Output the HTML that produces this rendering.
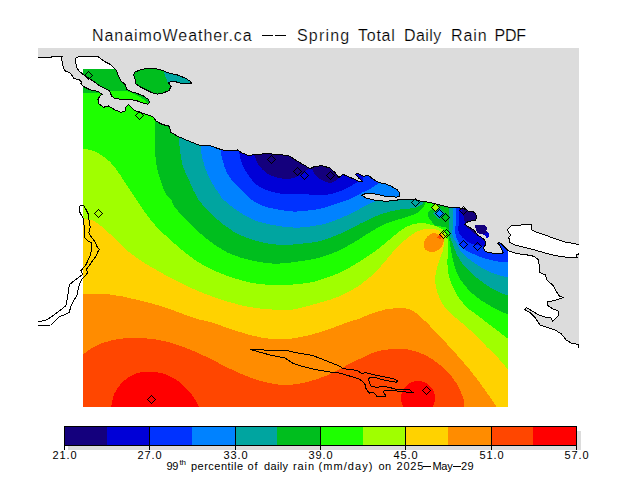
<!DOCTYPE html>
<html><head><meta charset="utf-8"><title>NanaimoWeather.ca -- Spring Total Daily Rain PDF</title>
<style>
html,body{margin:0;padding:0;background:#fff;}
body{width:640px;height:480px;position:relative;overflow:hidden;font-family:"Liberation Sans",sans-serif;color:#000;}
.t{position:absolute;white-space:nowrap;line-height:1;}
.title{font-size:16px;top:28px;-webkit-text-stroke:0.2px #fff;}
.lb{font-size:11px;top:450px;width:40px;text-align:center;letter-spacing:0.9px;}
.cap{font-size:11px;top:461px;}
</style></head><body>
<svg width="640" height="480" viewBox="0 0 640 480" shape-rendering="crispEdges" style="position:absolute;left:0;top:0">
<defs><clipPath id="dc"><rect x="83" y="69" width="425" height="338"/></clipPath></defs>
<g clip-path="url(#dc)">
<rect x="83" y="69" width="425" height="338" fill="#ffd200"/>
<path d="M83.00,218.75 C85.00,219.21 90.50,218.96 95.00,221.50 C99.50,224.04 105.00,229.46 110.00,234.00 C115.00,238.54 120.00,244.42 125.00,248.75 C130.00,253.08 135.83,257.08 140.00,260.00 C144.17,262.92 145.00,263.33 150.00,266.25 C155.00,269.17 163.33,273.96 170.00,277.50 C176.67,281.04 182.50,284.17 190.00,287.50 C197.50,290.83 206.67,294.58 215.00,297.50 C223.33,300.42 232.08,303.12 240.00,305.00 C247.92,306.88 254.58,307.92 262.50,308.75 C270.42,309.58 281.25,310.12 287.50,310.00 C293.75,309.88 294.58,309.25 300.00,308.00 C305.42,306.75 313.33,304.46 320.00,302.50 C326.67,300.54 333.33,299.17 340.00,296.25 C346.67,293.33 353.75,289.38 360.00,285.00 C366.25,280.62 372.08,275.42 377.50,270.00 C382.92,264.58 387.92,257.50 392.50,252.50 C397.08,247.50 400.83,243.54 405.00,240.00 C409.17,236.46 413.33,233.12 417.50,231.25 C421.67,229.38 426.42,228.88 430.00,228.75 C433.58,228.62 436.67,229.29 439.00,230.50 C441.33,231.71 443.20,233.92 444.00,236.00 C444.80,238.08 443.97,240.67 443.80,243.00 C443.63,245.33 443.87,246.75 443.00,250.00 C442.13,253.25 439.85,258.33 438.60,262.50 C437.35,266.67 435.93,270.83 435.50,275.00 C435.07,279.17 435.17,283.33 436.00,287.50 C436.83,291.67 438.67,296.25 440.50,300.00 C442.33,303.75 444.42,307.00 447.00,310.00 C449.58,313.00 452.17,314.67 456.00,318.00 C459.83,321.33 464.75,325.08 470.00,330.00 C475.25,334.92 482.50,342.50 487.50,347.50 C492.50,352.50 496.58,356.25 500.00,360.00 C503.42,363.75 506.67,368.33 508.00,370.00 L520.00,370.00 L520.00,60.00 L70.00,60.00 L70.00,218.75 Z" fill="#a0ff00"/>
<path d="M83.00,149.25 C84.58,149.46 88.83,149.12 92.50,150.50 C96.17,151.88 101.25,154.67 105.00,157.50 C108.75,160.33 111.67,163.33 115.00,167.50 C118.33,171.67 121.67,177.50 125.00,182.50 C128.33,187.50 131.67,192.50 135.00,197.50 C138.33,202.50 141.67,207.92 145.00,212.50 C148.33,217.08 151.67,221.25 155.00,225.00 C158.33,228.75 160.00,230.42 165.00,235.00 C170.00,239.58 178.33,247.29 185.00,252.50 C191.67,257.71 198.33,262.50 205.00,266.25 C211.67,270.00 217.50,272.29 225.00,275.00 C232.50,277.71 242.08,280.83 250.00,282.50 C257.92,284.17 265.42,284.67 272.50,285.00 C279.58,285.33 286.25,284.92 292.50,284.50 C298.75,284.08 305.42,283.25 310.00,282.50 C314.58,281.75 315.00,281.67 320.00,280.00 C325.00,278.33 333.33,275.62 340.00,272.50 C346.67,269.38 353.33,265.42 360.00,261.25 C366.67,257.08 374.17,251.88 380.00,247.50 C385.83,243.12 390.42,238.54 395.00,235.00 C399.58,231.46 403.33,228.25 407.50,226.25 C411.67,224.25 415.83,223.21 420.00,223.00 C424.17,222.79 428.83,224.00 432.50,225.00 C436.17,226.00 439.58,227.17 442.00,229.00 C444.42,230.83 446.00,232.50 447.00,236.00 C448.00,239.50 447.93,245.58 448.00,250.00 C448.07,254.42 447.30,258.33 447.40,262.50 C447.50,266.67 447.67,270.83 448.60,275.00 C449.53,279.17 451.02,283.33 453.00,287.50 C454.98,291.67 457.67,296.25 460.50,300.00 C463.33,303.75 467.58,307.75 470.00,310.00 C472.42,312.25 471.67,311.00 475.00,313.50 C478.33,316.00 484.50,320.79 490.00,325.00 C495.50,329.21 505.00,336.46 508.00,338.75 L520.00,338.00 L520.00,60.00 L70.00,60.00 L70.00,149.00 Z" fill="#1eff00"/>
<path d="M83.00,92.50 C85.83,92.58 95.43,93.25 100.00,93.00 C104.57,92.75 105.90,91.29 110.40,91.00 C114.90,90.71 122.07,90.25 127.00,91.25 C131.93,92.25 136.33,94.88 140.00,97.00 C143.67,99.12 146.83,101.50 149.00,104.00 C151.17,106.50 152.00,109.00 153.00,112.00 C154.00,115.00 154.67,115.67 155.00,122.00 C155.33,128.33 154.58,142.00 155.00,150.00 C155.42,158.00 155.83,162.92 157.50,170.00 C159.17,177.08 162.71,187.50 165.00,192.50 C167.29,197.50 169.58,197.50 171.25,200.00 C172.92,202.50 172.71,204.50 175.00,207.50 C177.29,210.50 180.00,213.00 185.00,218.00 C190.00,223.00 197.92,231.75 205.00,237.50 C212.08,243.25 220.00,248.75 227.50,252.50 C235.00,256.25 242.08,258.12 250.00,260.00 C257.92,261.88 266.67,263.54 275.00,263.75 C283.33,263.96 292.50,262.29 300.00,261.25 C307.50,260.21 313.33,259.38 320.00,257.50 C326.67,255.62 333.33,253.12 340.00,250.00 C346.67,246.88 353.33,242.71 360.00,238.75 C366.67,234.79 373.33,229.54 380.00,226.25 C386.67,222.96 395.00,220.71 400.00,219.00 C405.00,217.29 407.17,217.00 410.00,216.00 C412.83,215.00 415.17,214.00 417.00,213.00 C418.83,212.00 419.83,211.17 421.00,210.00 C422.17,208.83 423.17,207.33 424.00,206.00 C424.83,204.67 425.67,202.67 426.00,202.00 L426.00,60.00 L70.00,60.00 L70.00,92.50 Z" fill="#00be1e"/>
<path d="M440.00,200.00 C440.00,200.83 441.17,203.50 440.00,205.00 C438.83,206.50 434.92,207.83 433.00,209.00 C431.08,210.17 429.25,210.67 428.50,212.00 C427.75,213.33 427.92,215.33 428.50,217.00 C429.08,218.67 430.75,220.50 432.00,222.00 C433.25,223.50 434.50,225.25 436.00,226.00 C437.50,226.75 439.33,226.25 441.00,226.50 C442.67,226.75 444.75,226.58 446.00,227.50 C447.25,228.42 448.00,230.33 448.50,232.00 C449.00,233.67 448.58,234.50 449.00,237.50 C449.42,240.50 450.33,246.25 451.00,250.00 C451.67,253.75 452.04,256.25 453.00,260.00 C453.96,263.75 454.88,268.33 456.75,272.50 C458.62,276.67 461.12,281.04 464.25,285.00 C467.38,288.96 471.75,293.12 475.50,296.25 C479.25,299.38 483.00,301.46 486.75,303.75 C490.50,306.04 494.46,308.21 498.00,310.00 C501.54,311.79 506.33,313.75 508.00,314.50 L520.00,314.00 L520.00,60.00 L440.00,60.00 Z" fill="#00be1e"/>
<path d="M163.50,60.00 C163.50,61.83 162.92,67.67 163.50,71.00 C164.08,74.33 166.20,77.83 167.00,80.00 C167.80,82.17 167.72,82.67 168.30,84.00 C168.88,85.33 169.38,83.67 170.50,88.00 C171.62,92.33 173.75,103.00 175.00,110.00 C176.25,117.00 177.38,125.42 178.00,130.00 C178.62,134.58 178.42,134.17 178.75,137.50 C179.08,140.83 179.38,145.42 180.00,150.00 C180.62,154.58 180.83,159.58 182.50,165.00 C184.17,170.42 187.29,176.67 190.00,182.50 C192.71,188.33 194.58,194.17 198.75,200.00 C202.92,205.83 208.96,212.08 215.00,217.50 C221.04,222.92 227.92,228.54 235.00,232.50 C242.08,236.46 250.00,239.17 257.50,241.25 C265.00,243.33 272.92,244.58 280.00,245.00 C287.08,245.42 293.33,244.38 300.00,243.75 C306.67,243.12 313.33,242.92 320.00,241.25 C326.67,239.58 333.33,236.67 340.00,233.75 C346.67,230.83 353.33,226.96 360.00,223.75 C366.67,220.54 373.33,216.88 380.00,214.50 C386.67,212.12 395.00,210.50 400.00,209.50 C405.00,208.50 407.08,208.92 410.00,208.50 C412.92,208.08 415.42,207.79 417.50,207.00 C419.58,206.21 421.42,204.75 422.50,203.75 C423.58,202.75 423.75,201.46 424.00,201.00 L424.00,60.00 Z" fill="#00a5a0"/>
<path d="M448.00,200.00 C448.12,201.17 448.58,203.67 448.75,207.00 C448.92,210.33 448.96,215.83 449.00,220.00 C449.04,224.17 448.83,229.29 449.00,232.00 C449.17,234.71 449.00,233.25 450.00,236.25 C451.00,239.25 453.46,246.25 455.00,250.00 C456.54,253.75 457.29,255.62 459.25,258.75 C461.21,261.88 463.62,265.42 466.75,268.75 C469.88,272.08 474.04,275.62 478.00,278.75 C481.96,281.88 486.33,285.00 490.50,287.50 C494.67,290.00 500.08,292.40 503.00,293.75 C505.92,295.10 507.17,295.29 508.00,295.60 L520.00,295.00 L520.00,60.00 L448.00,60.00 Z" fill="#00a5a0"/>
<path d="M439.00,207.00 L445.00,213.50 L439.00,220.00 L433.00,213.50 Z" fill="#00a5a0"/>
<path d="M439.00,209.50 L443.00,213.50 L439.00,217.50 L435.00,213.50 Z" fill="#0082ff"/>
<path d="M435.60,203.50 L439.00,207.10 L435.60,210.70 L432.00,207.10 Z" fill="#a0ff00"/>
<path d="M200.00,138.00 C200.10,139.48 200.18,143.44 200.60,146.90 C201.02,150.36 201.45,154.48 202.50,158.75 C203.55,163.02 205.23,168.33 206.90,172.50 C208.57,176.67 210.32,180.00 212.50,183.75 C214.68,187.50 218.12,192.29 220.00,195.00 C221.88,197.71 220.42,197.08 223.75,200.00 C227.08,202.92 234.38,208.96 240.00,212.50 C245.62,216.04 250.83,218.96 257.50,221.25 C264.17,223.54 272.92,225.21 280.00,226.25 C287.08,227.29 292.50,227.92 300.00,227.50 C307.50,227.08 317.50,225.62 325.00,223.75 C332.50,221.88 339.17,218.75 345.00,216.25 C350.83,213.75 355.42,211.04 360.00,208.75 C364.58,206.46 369.67,203.88 372.50,202.50 C375.33,201.12 376.25,200.83 377.00,200.50 L380.00,198.00 L398.00,198.00 L402.00,190.00 L402.00,60.00 L200.00,60.00 Z" fill="#0082ff"/>
<path d="M452.50,200.00 C452.58,201.17 452.92,202.83 453.00,207.00 C453.08,211.17 453.08,220.33 453.00,225.00 C452.92,229.67 451.75,231.67 452.50,235.00 C453.25,238.33 456.25,242.50 457.50,245.00 C458.75,247.50 458.67,248.12 460.00,250.00 C461.33,251.88 462.92,253.96 465.50,256.25 C468.08,258.54 471.75,261.25 475.50,263.75 C479.25,266.25 483.83,269.27 488.00,271.25 C492.17,273.23 497.17,274.56 500.50,275.60 C503.83,276.64 506.75,277.18 508.00,277.50 L520.00,278.00 L520.00,60.00 L452.50,60.00 Z" fill="#0082ff"/>
<path d="M220.50,142.00 C220.52,143.43 220.27,147.60 220.60,150.60 C220.93,153.60 221.45,156.35 222.50,160.00 C223.55,163.65 225.03,168.75 226.90,172.50 C228.78,176.25 231.15,179.38 233.75,182.50 C236.35,185.62 239.79,188.54 242.50,191.25 C245.21,193.96 247.08,196.54 250.00,198.75 C252.92,200.96 256.67,202.96 260.00,204.50 C263.33,206.04 265.00,206.88 270.00,208.00 C275.00,209.12 285.00,210.71 290.00,211.25 C295.00,211.79 295.00,211.67 300.00,211.25 C305.00,210.83 313.33,210.21 320.00,208.75 C326.67,207.29 335.00,204.12 340.00,202.50 C345.00,200.88 346.25,200.67 350.00,199.00 C353.75,197.33 358.75,194.42 362.50,192.50 C366.25,190.58 369.79,189.08 372.50,187.50 C375.21,185.92 377.71,183.75 378.75,183.00 L380.00,175.00 L380.00,60.00 L220.00,60.00 Z" fill="#0032ff"/>
<path d="M456.00,200.00 C456.00,203.67 456.17,216.67 456.00,222.00 C455.83,227.33 454.54,228.58 455.00,232.00 C455.46,235.42 457.00,239.50 458.75,242.50 C460.50,245.50 462.92,248.02 465.50,250.00 C468.08,251.98 470.92,252.94 474.25,254.40 C477.58,255.86 481.54,257.57 485.50,258.75 C489.46,259.93 494.25,260.88 498.00,261.50 C501.75,262.12 506.33,262.33 508.00,262.50 L520.00,263.00 L520.00,60.00 L456.00,60.00 Z" fill="#0032ff"/>
<path d="M238.50,145.00 C238.65,146.46 238.73,150.42 239.40,153.75 C240.07,157.08 240.73,161.04 242.50,165.00 C244.27,168.96 247.29,173.96 250.00,177.50 C252.71,181.04 255.42,183.96 258.75,186.25 C262.08,188.54 265.62,189.91 270.00,191.25 C274.38,192.59 279.17,193.79 285.00,194.30 C290.83,194.81 298.33,194.18 305.00,194.30 C311.67,194.42 319.17,195.51 325.00,195.00 C330.83,194.49 335.42,192.92 340.00,191.25 C344.58,189.58 349.38,186.67 352.50,185.00 C355.62,183.33 357.71,181.88 358.75,181.25 L363.00,181.50 L363.00,60.00 L238.00,60.00 Z" fill="#0000d7"/>
<path d="M459.00,200.00 C459.00,203.67 459.17,217.00 459.00,222.00 C458.83,227.00 457.42,227.42 458.00,230.00 C458.58,232.58 460.29,235.21 462.50,237.50 C464.71,239.79 467.92,242.29 471.25,243.75 C474.58,245.21 480.04,245.21 482.50,246.25 C484.96,247.29 485.42,249.38 486.00,250.00 L490.00,244.00 L493.00,236.00 L495.00,60.00 L459.00,60.00 Z" fill="#0000d7"/>
<path d="M254.00,148.00 C254.08,149.25 253.71,152.67 254.50,155.50 C255.29,158.33 256.58,161.96 258.75,165.00 C260.92,168.04 263.96,171.54 267.50,173.75 C271.04,175.96 276.25,177.42 280.00,178.25 C283.75,179.08 287.08,179.08 290.00,178.75 C292.92,178.42 295.00,177.50 297.50,176.25 C300.00,175.00 302.92,172.50 305.00,171.25 C307.08,170.00 309.17,169.17 310.00,168.75 L312.00,160.00 L312.00,100.00 L254.00,100.00 Z" fill="#14007d"/>
<path d="M311.00,160.00 C311.17,161.33 311.50,165.83 312.00,168.00 C312.50,170.17 312.67,171.17 314.00,173.00 C315.33,174.83 318.00,177.50 320.00,179.00 C322.00,180.50 324.17,181.33 326.00,182.00 C327.83,182.67 329.33,183.25 331.00,183.00 C332.67,182.75 334.67,181.50 336.00,180.50 C337.33,179.50 338.50,177.58 339.00,177.00 L340.00,160.00 L340.00,100.00 Z" fill="#14007d"/>
<path d="M458.00,190.00 L461.00,208.00 L463.50,216.00 L465.50,226.00 L478.00,236.50 L484.00,233.80 L489.00,231.50 L495.00,225.00 L495.00,190.00 Z" fill="#14007d"/>
<path d="M83.00,294.50 C87.50,294.50 101.75,293.79 110.00,294.50 C118.25,295.21 125.83,297.33 132.50,298.75 C139.17,300.17 144.58,301.54 150.00,303.00 C155.42,304.46 159.58,305.71 165.00,307.50 C170.42,309.29 177.29,311.88 182.50,313.75 C187.71,315.62 191.67,317.38 196.25,318.75 C200.83,320.12 204.38,320.33 210.00,322.00 C215.62,323.67 223.33,326.58 230.00,328.75 C236.67,330.92 243.33,333.33 250.00,335.00 C256.67,336.67 263.33,338.12 270.00,338.75 C276.67,339.38 283.33,339.38 290.00,338.75 C296.67,338.12 303.33,336.67 310.00,335.00 C316.67,333.33 323.33,331.00 330.00,328.75 C336.67,326.50 345.00,323.21 350.00,321.50 C355.00,319.79 356.67,319.75 360.00,318.50 C363.33,317.25 366.67,315.25 370.00,314.00 C373.33,312.75 376.67,311.88 380.00,311.00 C383.33,310.12 385.42,309.12 390.00,308.75 C394.58,308.38 402.50,307.50 407.50,308.75 C412.50,310.00 415.42,312.50 420.00,316.25 C424.58,320.00 429.58,325.62 435.00,331.25 C440.42,336.88 446.67,343.54 452.50,350.00 C458.33,356.46 464.58,363.33 470.00,370.00 C475.42,376.67 480.62,383.92 485.00,390.00 C489.38,396.08 494.38,403.75 496.25,406.50 L496.00,420.00 L70.00,420.00 L70.00,294.50 Z" fill="#ff8c00"/>
<path d="M438.75,235.00 C437.58,234.50 436.46,233.10 435.00,233.00 C433.54,232.90 431.57,233.44 430.00,234.40 C428.43,235.36 426.68,236.98 425.60,238.75 C424.52,240.52 423.52,243.21 423.50,245.00 C423.48,246.79 424.42,248.33 425.50,249.50 C426.58,250.67 428.42,251.67 430.00,252.00 C431.58,252.33 433.33,252.08 435.00,251.50 C436.67,250.92 438.67,249.79 440.00,248.50 C441.33,247.21 442.38,245.38 443.00,243.75 C443.62,242.12 443.92,240.04 443.75,238.75 C443.58,237.46 442.83,236.62 442.00,236.00 C441.17,235.38 439.92,235.50 438.75,235.00 Z" fill="#ff8c00"/>
<path d="M437.00,237.50 L440.00,234.00 L442.50,235.50 L440.00,239.50 Z" fill="#ff4600"/>
<path d="M83.00,354.50 C85.00,353.12 90.50,348.54 95.00,346.25 C99.50,343.96 104.58,342.12 110.00,340.75 C115.42,339.38 121.67,338.42 127.50,338.00 C133.33,337.58 138.75,337.71 145.00,338.25 C151.25,338.79 158.33,339.71 165.00,341.25 C171.67,342.79 178.33,345.00 185.00,347.50 C191.67,350.00 197.50,352.71 205.00,356.25 C212.50,359.79 222.50,365.21 230.00,368.75 C237.50,372.29 243.33,375.08 250.00,377.50 C256.67,379.92 263.75,382.00 270.00,383.25 C276.25,384.50 281.67,385.12 287.50,385.00 C293.33,384.88 298.75,383.96 305.00,382.50 C311.25,381.04 318.33,378.96 325.00,376.25 C331.67,373.54 339.17,369.17 345.00,366.25 C350.83,363.33 355.00,361.12 360.00,358.75 C365.00,356.38 370.00,353.58 375.00,352.00 C380.00,350.42 384.58,349.71 390.00,349.25 C395.42,348.79 401.67,348.29 407.50,349.25 C413.33,350.21 419.58,352.38 425.00,355.00 C430.42,357.62 435.42,361.25 440.00,365.00 C444.58,368.75 449.17,373.33 452.50,377.50 C455.83,381.67 458.12,386.25 460.00,390.00 C461.88,393.75 463.00,397.25 463.75,400.00 C464.50,402.75 464.38,405.42 464.50,406.50 L464.50,420.00 L70.00,420.00 L70.00,354.50 Z" fill="#ff4600"/>
<path d="M111.25,407.00 C111.67,405.00 112.29,398.67 113.75,395.00 C115.21,391.33 117.29,388.12 120.00,385.00 C122.71,381.88 126.25,378.42 130.00,376.25 C133.75,374.08 138.33,372.71 142.50,372.00 C146.67,371.29 150.83,371.50 155.00,372.00 C159.17,372.50 163.33,373.25 167.50,375.00 C171.67,376.75 176.25,379.58 180.00,382.50 C183.75,385.42 187.29,389.38 190.00,392.50 C192.71,395.62 194.79,398.83 196.25,401.25 C197.71,403.67 198.33,406.04 198.75,407.00 L198.75,420.00 L111.00,420.00 Z" fill="#ff0000"/>
<circle cx="418" cy="398" r="17" fill="#ff0000"/>
</g>
<path d="M38.00,57.50 L51.00,57.50 L51.60,56.25 L62.25,56.25 L61.60,58.50 L62.25,62.25 L63.50,67.90 L65.40,71.00 L69.75,72.50 L72.25,76.00 L74.10,78.50 L79.10,79.75 L81.60,82.25 L81.00,83.50 L82.90,86.00 L87.25,88.50 L92.25,90.40 L97.90,91.25 L101.00,93.50 L102.25,94.10 L99.75,96.00 L97.90,99.75 L99.10,104.10 L103.50,107.25 L108.50,106.00 L114.75,109.75 L121.00,112.25 L125.40,111.00 L126.00,106.60 L128.50,104.75 L131.00,107.25 L134.75,110.40 L139.75,112.25 L146.00,114.50 L149.75,115.40 L153.75,117.50 L156.25,121.25 L162.50,124.50 L169.50,126.25 L170.50,132.00 L177.50,136.25 L187.50,140.50 L198.75,145.00 L210.00,145.50 L215.00,147.50 L222.50,150.00 L230.00,150.75 L237.50,150.00 L242.50,153.25 L248.75,155.50 L257.50,154.25 L267.50,153.75 L280.00,154.50 L290.00,156.25 L297.50,161.25 L305.00,165.50 L310.00,168.75 L315.00,166.25 L322.50,165.75 L330.00,168.10 L335.00,172.50 L338.75,177.50 L343.10,174.40 L348.75,176.90 L355.00,179.40 L360.00,181.90 L363.10,181.90 L358.75,178.10 L355.60,174.40 L357.50,173.10 L363.75,176.25 L368.10,175.00 L372.50,178.75 L378.75,182.50 L385.00,183.75 L391.25,186.25 L397.50,190.00 L400.00,193.75 L399.40,196.25 L396.25,197.10 L385.00,196.25 L380.00,195.00 L372.50,193.50 L365.00,193.75 L361.90,195.25 L366.25,198.10 L373.75,200.00 L385.00,201.25 L395.00,200.60 L400.00,199.40 L411.25,199.00 L420.00,201.00 L430.00,202.50 L440.00,205.00 L450.00,207.50 L460.00,208.00 L466.25,209.40 L468.75,211.90 L471.90,211.00 L475.00,213.00 L476.90,217.50 L475.60,220.00 L471.25,221.00 L467.50,221.90 L464.75,224.40 L468.75,226.90 L473.75,230.00 L476.25,233.10 L477.50,235.00 L482.50,238.10 L485.00,240.60 L485.25,245.00 L483.75,247.50 L484.40,250.60 L487.50,252.50 L497.50,253.75 L501.90,253.75 L503.10,252.50 L501.25,248.75 L499.40,245.00 L497.50,243.10 L499.40,242.25 L502.50,245.00 L506.25,248.75 L508.00,250.60 L517.50,253.75 L527.50,255.00 L533.75,256.25 L538.75,260.00 L539.50,272.50 L545.50,275.00 L547.00,280.00 L553.75,286.25 L556.25,291.25 L559.50,296.25 L563.00,297.50 L555.00,300.50 L547.50,302.00 L547.00,305.00 L552.50,308.75 L558.75,311.25 L558.00,316.25 L555.00,318.75 L552.50,321.25 L551.25,318.00 L545.00,317.00 L538.75,315.00 L532.50,311.25 L526.25,307.50 L524.50,309.50 L530.00,312.50 L535.00,317.50 L540.00,325.00 L547.50,327.50 L555.00,330.00 L561.25,333.75 L566.25,340.00 L571.25,343.00 L578.75,344.50 L578.75,348.00 L579.00,348.00 L579.00,48.00 L38.00,48.00 Z M76.00,57.90 L79.10,56.25 L97.25,56.25 L99.75,57.90 L104.75,61.60 L111.00,64.75 L116.00,69.75 L118.50,76.00 L121.00,81.00 L125.40,84.75 L126.60,89.10 L131.00,91.60 L137.25,93.50 L143.50,96.00 L147.90,99.10 L149.75,102.25 L147.90,104.10 L143.50,103.25 L138.50,101.25 L132.25,99.75 L126.00,99.10 L119.75,99.10 L114.75,98.50 L111.60,96.00 L110.40,92.90 L109.10,90.40 L104.75,88.50 L99.75,86.00 L96.00,83.25 L92.25,80.40 L87.25,77.25 L83.50,74.75 L79.75,71.60 L77.25,68.50 L76.25,64.75 L75.40,61.00 L75.40,58.50 Z M133.50,74.75 L134.75,72.25 L139.75,70.00 L147.25,68.25 L154.75,68.25 L162.25,70.40 L168.50,72.90 L177.50,75.00 L186.25,78.50 L190.00,81.25 L191.90,83.75 L186.25,83.50 L180.00,83.10 L175.00,81.50 L171.00,81.60 L168.50,82.90 L171.00,86.60 L169.10,90.40 L163.50,92.90 L157.25,94.10 L152.25,92.90 L146.00,89.75 L139.75,86.60 L136.00,84.10 L135.40,79.75 Z M475.00,225.00 L480.00,224.75 L485.60,225.60 L486.90,228.10 L486.25,231.25 L488.10,232.25 L489.00,234.40 L488.20,238.30 L486.20,238.30 L485.50,235.80 L483.50,234.60 L480.00,233.90 L477.50,232.50 L475.60,228.75 Z" fill="#dcdcdc" fill-rule="evenodd"/>
<path d="M579.00,244.50 L565.00,242.00 L555.00,238.75 L545.00,235.00 L536.25,232.00 L531.75,230.00 L531.25,224.25 L523.75,224.50 L517.50,225.50 L511.25,225.75 L507.50,229.50 L508.75,232.50 L511.25,235.00 L508.75,237.50 L510.00,242.50 L515.00,245.00 L525.00,247.50 L535.00,250.00 L545.00,253.00 L555.00,255.50 L565.00,257.00 L577.00,257.00 L576.25,255.00 L579.00,253.75 Z" fill="#fff"/>
<path d="M38.00,57.50 L51.00,57.50 L51.60,56.25 L62.25,56.25 L61.60,58.50 L62.25,62.25 L63.50,67.90 L65.40,71.00 L69.75,72.50 L72.25,76.00 L74.10,78.50 L79.10,79.75 L81.60,82.25 L81.00,83.50 L82.90,86.00 L87.25,88.50 L92.25,90.40 L97.90,91.25 L101.00,93.50 L102.25,94.10 L99.75,96.00 L97.90,99.75 L99.10,104.10 L103.50,107.25 L108.50,106.00 L114.75,109.75 L121.00,112.25 L125.40,111.00 L126.00,106.60 L128.50,104.75 L131.00,107.25 L134.75,110.40 L139.75,112.25 L146.00,114.50 L149.75,115.40 L153.75,117.50 L156.25,121.25 L162.50,124.50 L169.50,126.25 L170.50,132.00 L177.50,136.25 L187.50,140.50 L198.75,145.00 L210.00,145.50 L215.00,147.50 L222.50,150.00 L230.00,150.75 L237.50,150.00 L242.50,153.25 L248.75,155.50 L257.50,154.25 L267.50,153.75 L280.00,154.50 L290.00,156.25 L297.50,161.25 L305.00,165.50 L310.00,168.75 L315.00,166.25 L322.50,165.75 L330.00,168.10 L335.00,172.50 L338.75,177.50 L343.10,174.40 L348.75,176.90 L355.00,179.40 L360.00,181.90 L363.10,181.90 L358.75,178.10 L355.60,174.40 L357.50,173.10 L363.75,176.25 L368.10,175.00 L372.50,178.75 L378.75,182.50 L385.00,183.75 L391.25,186.25 L397.50,190.00 L400.00,193.75 L399.40,196.25 L396.25,197.10 L385.00,196.25 L380.00,195.00 L372.50,193.50 L365.00,193.75 L361.90,195.25 L366.25,198.10 L373.75,200.00 L385.00,201.25 L395.00,200.60 L400.00,199.40 L411.25,199.00 L420.00,201.00 L430.00,202.50 L440.00,205.00 L450.00,207.50 L460.00,208.00 L466.25,209.40 L468.75,211.90 L471.90,211.00 L475.00,213.00 L476.90,217.50 L475.60,220.00 L471.25,221.00 L467.50,221.90 L464.75,224.40 L468.75,226.90 L473.75,230.00 L476.25,233.10 L477.50,235.00 L482.50,238.10 L485.00,240.60 L485.25,245.00 L483.75,247.50 L484.40,250.60 L487.50,252.50 L497.50,253.75 L501.90,253.75 L503.10,252.50 L501.25,248.75 L499.40,245.00 L497.50,243.10 L499.40,242.25 L502.50,245.00 L506.25,248.75 L508.00,250.60 L517.50,253.75 L527.50,255.00 L533.75,256.25 L538.75,260.00 L539.50,272.50 L545.50,275.00 L547.00,280.00 L553.75,286.25 L556.25,291.25 L559.50,296.25 L563.00,297.50 L555.00,300.50 L547.50,302.00 L547.00,305.00 L552.50,308.75 L558.75,311.25 L558.00,316.25 L555.00,318.75 L552.50,321.25 L551.25,318.00 L545.00,317.00 L538.75,315.00 L532.50,311.25 L526.25,307.50 L524.50,309.50 L530.00,312.50 L535.00,317.50 L540.00,325.00 L547.50,327.50 L555.00,330.00 L561.25,333.75 L566.25,340.00 L571.25,343.00 L578.75,344.50 L578.75,348.00" fill="none" stroke="#000" stroke-width="1"/>
<path d="M76.00,57.90 L79.10,56.25 L97.25,56.25 L99.75,57.90 L104.75,61.60 L111.00,64.75 L116.00,69.75 L118.50,76.00 L121.00,81.00 L125.40,84.75 L126.60,89.10 L131.00,91.60 L137.25,93.50 L143.50,96.00 L147.90,99.10 L149.75,102.25 L147.90,104.10 L143.50,103.25 L138.50,101.25 L132.25,99.75 L126.00,99.10 L119.75,99.10 L114.75,98.50 L111.60,96.00 L110.40,92.90 L109.10,90.40 L104.75,88.50 L99.75,86.00 L96.00,83.25 L92.25,80.40 L87.25,77.25 L83.50,74.75 L79.75,71.60 L77.25,68.50 L76.25,64.75 L75.40,61.00 L75.40,58.50 Z" fill="none" stroke="#000" stroke-width="1"/>
<path d="M133.50,74.75 L134.75,72.25 L139.75,70.00 L147.25,68.25 L154.75,68.25 L162.25,70.40 L168.50,72.90 L177.50,75.00 L186.25,78.50 L190.00,81.25 L191.90,83.75 L186.25,83.50 L180.00,83.10 L175.00,81.50 L171.00,81.60 L168.50,82.90 L171.00,86.60 L169.10,90.40 L163.50,92.90 L157.25,94.10 L152.25,92.90 L146.00,89.75 L139.75,86.60 L136.00,84.10 L135.40,79.75 Z" fill="none" stroke="#000" stroke-width="1"/>
<path d="M579.00,244.50 L565.00,242.00 L555.00,238.75 L545.00,235.00 L536.25,232.00 L531.75,230.00 L531.25,224.25 L523.75,224.50 L517.50,225.50 L511.25,225.75 L507.50,229.50 L508.75,232.50 L511.25,235.00 L508.75,237.50 L510.00,242.50 L515.00,245.00 L525.00,247.50 L535.00,250.00 L545.00,253.00 L555.00,255.50 L565.00,257.00 L577.00,257.00 L576.25,255.00 L579.00,253.75" fill="none" stroke="#000" stroke-width="1"/>
<path d="M81.90,205.25 L79.40,206.25 L79.10,210.60 L81.25,215.00 L83.50,218.75 L84.00,225.00 L85.00,231.25 L84.60,237.50 L87.50,240.60 L91.60,243.10 L91.60,250.00 L89.70,256.70 L85.80,265.00 L80.80,270.80 L83.00,274.20 L75.00,280.00 L70.00,284.20 L68.70,287.50 L67.50,298.30 L65.80,305.80 L58.30,311.70 L51.70,316.70 L45.00,320.80 L38.00,321.30" fill="none" stroke="#000" stroke-width="1"/>
<path d="M81.90,205.25 L83.75,205.60 L85.60,208.75 L88.10,213.75 L89.00,220.00 L90.25,227.50 L88.75,232.50 L91.25,236.90 L95.00,241.90 L97.50,247.50 L99.40,249.10 L97.50,252.50 L96.70,255.00 L90.80,263.30 L85.80,270.00 L88.00,272.20 L85.80,275.00 L81.70,279.20 L78.30,287.50 L77.50,294.20 L74.20,300.00 L70.80,306.70 L69.20,312.50 L59.20,317.00 L50.80,325.00 L38.00,325.30" fill="none" stroke="#000" stroke-width="1"/>
<path d="M250.00,349.25 L263.75,350.00 L285.00,350.00 L295.00,352.50 L312.50,355.50 L327.50,361.25 L340.00,366.25 L342.50,368.75 L351.25,369.40 L357.50,370.60 L361.90,373.75 L365.00,372.50 L372.50,374.40 L381.25,376.25 L390.00,378.10 L395.60,379.40 L397.50,381.00 L396.25,382.25 L390.00,381.25 L382.50,379.75 L376.25,377.75 L370.00,377.50 L368.50,379.00 L369.40,383.10 L371.25,386.25 L376.25,387.25 L383.75,386.50 L388.75,387.25 L395.00,389.00 L402.50,389.75 L409.40,389.75 L412.50,392.25 L402.50,391.90 L395.00,390.60 L387.50,390.25 L383.10,391.25 L385.00,394.40 L385.25,396.25 L376.90,396.50 L375.00,393.75 L373.10,392.50 L369.40,393.10 L366.90,390.00 L365.00,386.90 L365.00,384.40 L362.50,381.25 L358.75,378.75 L352.50,376.90 L346.25,375.00 L340.00,373.10 L330.00,372.00 L315.00,369.50 L300.00,365.75 L292.50,363.00 L285.00,358.00 L270.00,355.00 L255.00,350.75 Z" fill="none" stroke="#000" stroke-width="1"/>
<path d="M88.50,71.50 L92.50,75.50 L88.50,79.50 L84.50,75.50 Z" fill="none" stroke="#000" stroke-width="1"/>
<path d="M139.50,111.50 L143.50,115.50 L139.50,119.50 L135.50,115.50 Z" fill="none" stroke="#000" stroke-width="1"/>
<path d="M98.50,209.50 L102.50,213.50 L98.50,217.50 L94.50,213.50 Z" fill="none" stroke="#000" stroke-width="1"/>
<path d="M151.50,395.50 L155.50,399.50 L151.50,403.50 L147.50,399.50 Z" fill="none" stroke="#000" stroke-width="1"/>
<path d="M271.50,155.50 L275.50,159.50 L271.50,163.50 L267.50,159.50 Z" fill="none" stroke="#000" stroke-width="1"/>
<path d="M297.50,167.50 L301.50,171.50 L297.50,175.50 L293.50,171.50 Z" fill="none" stroke="#000" stroke-width="1"/>
<path d="M304.50,171.50 L308.50,175.50 L304.50,179.50 L300.50,175.50 Z" fill="none" stroke="#000" stroke-width="1"/>
<path d="M330.50,171.50 L334.50,175.50 L330.50,179.50 L326.50,175.50 Z" fill="none" stroke="#000" stroke-width="1"/>
<path d="M415.50,198.50 L419.50,202.50 L415.50,206.50 L411.50,202.50 Z" fill="none" stroke="#000" stroke-width="1"/>
<path d="M435.50,203.50 L439.50,207.50 L435.50,211.50 L431.50,207.50 Z" fill="none" stroke="#000" stroke-width="1"/>
<path d="M439.50,209.50 L443.50,213.50 L439.50,217.50 L435.50,213.50 Z" fill="none" stroke="#000" stroke-width="1"/>
<path d="M445.50,213.50 L449.50,217.50 L445.50,221.50 L441.50,217.50 Z" fill="none" stroke="#000" stroke-width="1"/>
<path d="M443.50,230.50 L447.50,234.50 L443.50,238.50 L439.50,234.50 Z" fill="none" stroke="#000" stroke-width="1"/>
<path d="M446.50,229.50 L450.50,233.50 L446.50,237.50 L442.50,233.50 Z" fill="none" stroke="#000" stroke-width="1"/>
<path d="M463.50,240.50 L467.50,244.50 L463.50,248.50 L459.50,244.50 Z" fill="none" stroke="#000" stroke-width="1"/>
<path d="M477.50,242.50 L481.50,246.50 L477.50,250.50 L473.50,246.50 Z" fill="none" stroke="#000" stroke-width="1"/>
<path d="M463.50,206.50 L467.50,210.50 L463.50,214.50 L459.50,210.50 Z" fill="none" stroke="#000" stroke-width="1"/>
<path d="M426.50,386.50 L430.50,390.50 L426.50,394.50 L422.50,390.50 Z" fill="none" stroke="#000" stroke-width="1"/>
<rect x="68" y="431" width="513" height="19" fill="#dcdcdc"/>
<rect x="64.00" y="426" width="43.17" height="19" fill="#14007d"/>
<rect x="106.67" y="426" width="43.17" height="19" fill="#0000d7"/>
<rect x="149.33" y="426" width="43.17" height="19" fill="#0032ff"/>
<rect x="192.00" y="426" width="43.17" height="19" fill="#0082ff"/>
<rect x="234.67" y="426" width="43.17" height="19" fill="#00a5a0"/>
<rect x="277.33" y="426" width="43.17" height="19" fill="#00be1e"/>
<rect x="320.00" y="426" width="43.17" height="19" fill="#1eff00"/>
<rect x="362.67" y="426" width="43.17" height="19" fill="#a0ff00"/>
<rect x="405.33" y="426" width="43.17" height="19" fill="#ffd200"/>
<rect x="448.00" y="426" width="43.17" height="19" fill="#ff8c00"/>
<rect x="490.67" y="426" width="43.17" height="19" fill="#ff4600"/>
<rect x="533.33" y="426" width="43.17" height="19" fill="#ff0000"/>
<rect x="64.5" y="426.5" width="512" height="19" fill="none" stroke="#000" stroke-width="1"/>
<rect x="64" y="426" width="1" height="24" fill="#000"/>
<rect x="149" y="426" width="1" height="24" fill="#000"/>
<rect x="235" y="426" width="1" height="24" fill="#000"/>
<rect x="320" y="426" width="1" height="24" fill="#000"/>
<rect x="405" y="426" width="1" height="24" fill="#000"/>
<rect x="491" y="426" width="1" height="24" fill="#000"/>
<rect x="576" y="426" width="1" height="24" fill="#000"/>
<rect x="262" y="35" width="11" height="1" fill="#000"/><rect x="275" y="35" width="11" height="1" fill="#000"/><rect x="423" y="466" width="8" height="1" fill="#000"/><rect x="453" y="466" width="8" height="1" fill="#000"/>
</svg>
<div id="title">
<span class="t title" style="left:92px;letter-spacing:0.94px">NanaimoWeather.ca</span>
<span class="t title" style="left:297px;letter-spacing:1.2px">Spring</span>
<span class="t title" style="left:358px;letter-spacing:0.75px">Total</span>
<span class="t title" style="left:404px;letter-spacing:0.4px">Daily</span>
<span class="t title" style="left:451px;letter-spacing:0.9px">Rain</span>
<span class="t title" style="left:494.5px;letter-spacing:-0.2px">PDF</span>
</div>
<div id="ticks">
<span class="t lb" style="left:45px">21.0</span>
<span class="t lb" style="left:130px">27.0</span>
<span class="t lb" style="left:216px">33.0</span>
<span class="t lb" style="left:301px">39.0</span>
<span class="t lb" style="left:386px">45.0</span>
<span class="t lb" style="left:472px">51.0</span>
<span class="t lb" style="left:557px">57.0</span>
</div>
<div id="caption">
<span class="t cap" style="left:166.5px;letter-spacing:-0.3px">99</span><span class="t" style="left:179.5px;top:459px;font-size:8px;letter-spacing:-0.2px">th</span>
<span class="t cap" style="left:191px;letter-spacing:0.48px">percentile</span>
<span class="t cap" style="left:247.5px;letter-spacing:1px">of</span>
<span class="t cap" style="left:264px;letter-spacing:0.35px">daily</span>
<span class="t cap" style="left:293px;letter-spacing:0.9px">rain</span>
<span class="t cap" style="left:318.5px;letter-spacing:1.07px">(mm/day)</span>
<span class="t cap" style="left:378.5px;letter-spacing:0.5px">on</span>
<span class="t cap" style="left:396.5px;letter-spacing:0.8px">2025</span>
<span class="t cap" style="left:432.5px;letter-spacing:-0.3px">May</span>
<span class="t cap" style="left:461px;letter-spacing:0.3px">29</span>
</div>
</body></html>
